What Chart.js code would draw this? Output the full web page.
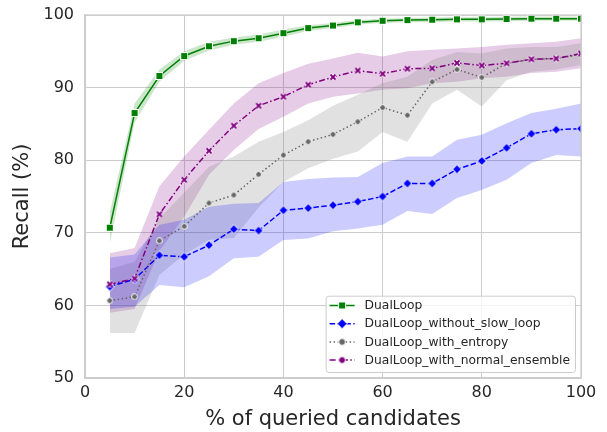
<!DOCTYPE html>
<html>
<head>
<meta charset="utf-8">
<script src="https://cdn.jsdelivr.net/npm/chart.js@4.4.1/dist/chart.umd.min.js"></script>
<style>
  html, body { margin: 0; padding: 0; background: #ffffff; }
  #wrap { width: 607px; height: 432px; }
</style>
</head>
<body>
<div id="wrap"><canvas id="recallChart" width="607" height="432"></canvas></div>
<script>
// % of queried candidates
const queried = [5, 10, 15, 20, 25, 30, 35, 40, 45, 50, 55, 60, 65, 70, 75, 80, 85, 90, 95, 100];

// DualLoop
const dualLoop     = [70.7, 86.5, 91.6, 94.35, 95.7, 96.4, 96.8, 97.5, 98.2, 98.55, 99.0, 99.2, 99.3, 99.35, 99.4, 99.4, 99.45, 99.5, 99.5, 99.5];
const dualLoopLow  = [68.5, 85.2, 90.8, 93.7, 95.1, 95.9, 96.3, 97.0, 97.8, 98.2, 98.7, 98.9, 99.0, 99.05, 99.1, 99.1, 99.15, 99.2, 99.2, 99.2];
const dualLoopHigh = [72.8, 87.8, 92.5, 95.0, 96.3, 96.9, 97.3, 98.0, 98.6, 98.9, 99.3, 99.5, 99.6, 99.65, 99.7, 99.7, 99.75, 99.8, 99.8, 99.8];

// DualLoop_without_slow_loop
const noSlow     = [62.6, 63.6, 66.9, 66.7, 68.3, 70.5, 70.3, 73.1, 73.4, 73.8, 74.3, 75.0, 76.8, 76.8, 78.75, 79.9, 81.7, 83.65, 84.2, 84.35];
const noSlowLow  = [59.5, 59.8, 62.8, 62.5, 64.0, 66.5, 66.7, 69.0, 69.2, 70.2, 70.6, 71.1, 73.0, 72.6, 74.8, 75.9, 77.3, 79.6, 80.7, 80.5];
const noSlowHigh = [66.6, 67.0, 71.1, 71.8, 73.6, 74.0, 74.1, 77.0, 77.4, 77.6, 77.7, 79.6, 80.5, 80.5, 82.8, 83.5, 85.1, 86.5, 87.1, 87.8];

// DualLoop_with_entropy
const entropy     = [60.65, 61.2, 68.9, 70.9, 74.1, 75.2, 78.05, 80.7, 82.55, 83.55, 85.3, 87.25, 86.2, 90.8, 92.5, 91.4, 93.35, 93.9, 94.0, 94.6];
const entropyLow  = [56.2, 56.2, 64.2, 67.0, 69.0, 69.3, 73.5, 77.0, 78.9, 80.2, 81.2, 83.9, 82.55, 87.8, 89.7, 87.4, 91.0, 92.2, 92.5, 93.1];
const entropyHigh = [65.0, 66.0, 72.0, 75.5, 79.1, 80.5, 82.55, 83.9, 85.5, 87.5, 89.0, 90.6, 91.5, 93.8, 94.9, 94.7, 95.4, 95.6, 95.6, 96.1];

// DualLoop_with_normal_ensemble
const ensemble     = [62.9, 63.7, 72.55, 77.3, 81.3, 84.75, 87.5, 88.75, 90.4, 91.45, 92.35, 91.9, 92.6, 92.65, 93.4, 93.05, 93.35, 93.9, 94.0, 94.7];
const ensembleLow  = [59.0, 59.5, 67.5, 72.2, 78.0, 81.4, 84.3, 86.0, 87.8, 88.75, 89.2, 89.7, 89.9, 90.6, 90.8, 91.3, 91.5, 92.0, 92.2, 92.65];
const ensembleHigh = [67.2, 67.9, 76.4, 80.5, 84.2, 87.8, 90.6, 92.0, 93.3, 94.0, 94.8, 94.3, 95.0, 95.2, 95.4, 95.6, 95.9, 96.1, 96.3, 96.8];

const xTicks = [0, 20, 40, 60, 80, 100];
const yTicks = [50, 60, 70, 80, 90, 100];

const textColor = '#262626';
const gridColor = '#cccccc';

function pts(values) {
    return queried.map((x, i) => ({ x: x, y: values[i] }));
}

// marker images (white edge like the seaborn style)
function makeMarker(kind, color, size) {
    const c = document.createElement('canvas');
    c.width = size; c.height = size;
    const g = c.getContext('2d');
    const m = size / 2;
    g.lineJoin = 'miter';
    if (kind === 'square') {
        g.fillStyle = color;
        g.fillRect(1, 1, size - 2, size - 2);
        g.strokeStyle = '#ffffff';
        g.lineWidth = 1;
        g.strokeRect(0.5, 0.5, size - 1, size - 1);
    } else if (kind === 'diamond') {
        g.beginPath();
        g.moveTo(m, 0.5); g.lineTo(size - 0.5, m); g.lineTo(m, size - 0.5); g.lineTo(0.5, m);
        g.closePath();
        g.fillStyle = color; g.fill();
        g.strokeStyle = '#ffffff'; g.lineWidth = 1; g.stroke();
    } else if (kind === 'circle') {
        g.beginPath();
        g.arc(m, m, m - 0.6, 0, Math.PI * 2);
        g.fillStyle = color; g.fill();
        g.strokeStyle = '#ffffff'; g.lineWidth = 1; g.stroke();
    } else if (kind === 'cross') {
        const d = m - 1.5;
        g.lineCap = 'butt';
        g.beginPath();
        g.moveTo(m - d, m - d); g.lineTo(m + d, m + d);
        g.moveTo(m + d, m - d); g.lineTo(m - d, m + d);
        g.strokeStyle = '#ffffff'; g.lineWidth = 3.4; g.stroke();
        g.strokeStyle = color; g.lineWidth = 1.8; g.stroke();
    }
    return c;
}

const series = [
    { label: 'DualLoop', mean: dualLoop, low: dualLoopLow, high: dualLoopHigh,
      color: '#008000', band: 'rgba(0,128,0,0.2)', dash: [],
      marker: makeMarker('square', '#008000', 8), legendMarker: makeMarker('square', '#008000', 8) },
    { label: 'DualLoop_without_slow_loop', mean: noSlow, low: noSlowLow, high: noSlowHigh,
      color: '#0000ff', band: 'rgba(0,0,255,0.2)', dash: [5.5, 2.4],
      marker: makeMarker('diamond', '#0000ff', 10), legendMarker: makeMarker('diamond', '#0000ff', 11) },
    { label: 'DualLoop_with_entropy', mean: entropy, low: entropyLow, high: entropyHigh,
      color: '#666666', band: 'rgba(128,128,128,0.24)', dash: [1.5, 2.5],
      marker: makeMarker('circle', '#666666', 7), legendMarker: makeMarker('circle', '#666666', 8) },
    { label: 'DualLoop_with_normal_ensemble', mean: ensemble, low: ensembleLow, high: ensembleHigh,
      color: '#800080', band: 'rgba(128,0,128,0.2)', dash: [6, 2.4, 1.5, 2.4],
      marker: makeMarker('cross', '#800080', 8), legendMarker: makeMarker('circle', '#800080', 8) }
];

const datasets = [];
series.forEach((s, i) => {
    datasets.push({
        label: s.label + ' low', data: pts(s.low),
        borderWidth: 0, pointRadius: 0, fill: false, order: 20 + i
    });
    datasets.push({
        label: s.label + ' high', data: pts(s.high),
        borderWidth: 0, pointRadius: 0, fill: '-1', backgroundColor: s.band, order: 20 + i
    });
});
series.forEach((s, i) => {
    datasets.push({
        label: s.label, data: pts(s.mean),
        borderColor: s.color, borderWidth: 1.5, borderDash: s.dash,
        pointStyle: s.marker, pointRadius: 4, pointHoverRadius: 4,
        fill: false, tension: 0, order: 10 - i
    });
});

// legend drawn inside the axes, lower right, like matplotlib
const innerLegend = {
    id: 'innerLegend',
    afterDraw(chart) {
        const ctx = chart.ctx;
        const area = chart.chartArea;
        const rowH = 18.2;
        ctx.save();
        ctx.font = '12.3px "DejaVu Sans"';
        let maxW = 0;
        series.forEach(s => { maxW = Math.max(maxW, ctx.measureText(s.label).width); });
        const boxW = 4 + 25 + 10 + maxW + 5;
        const boxH = rowH * series.length + 3.5;
        const x0 = area.right - 6 - boxW;
        const y0 = area.bottom - 6 - boxH;
        ctx.beginPath();
        ctx.roundRect(x0 + 0.5, y0 + 0.5, boxW, boxH, 3);
        ctx.fillStyle = 'rgba(255,255,255,0.8)';
        ctx.fill();
        ctx.strokeStyle = gridColor;
        ctx.lineWidth = 1;
        ctx.stroke();
        series.forEach((s, i) => {
            const cy = y0 + 9.8 + rowH * i;
            const hx = x0 + 4;
            ctx.beginPath();
            ctx.setLineDash(s.dash);
            ctx.strokeStyle = s.color;
            ctx.lineWidth = 1.5;
            ctx.moveTo(hx, cy);
            ctx.lineTo(hx + 25, cy);
            ctx.stroke();
            ctx.setLineDash([]);
            const m = s.legendMarker;
            ctx.drawImage(m, hx + 12.5 - m.width / 2, cy - m.height / 2);
            ctx.fillStyle = textColor;
            ctx.textBaseline = 'middle';
            ctx.textAlign = 'left';
            ctx.fillText(s.label, hx + 35, cy + 0.5);
        });
        ctx.restore();
    }
};

new Chart(document.getElementById('recallChart').getContext('2d'), {
    type: 'line',
    data: { datasets: datasets },
    options: {
        responsive: false,
        animation: false,
        devicePixelRatio: 1,
        layout: { padding: { top: 15, right: 26, left: 0, bottom: 0 } },
        plugins: {
            legend: { display: false },
            tooltip: { enabled: false }
        },
        scales: {
            x: {
                type: 'linear', min: 0, max: 100,
                afterBuildTicks: (scale) => { scale.ticks = xTicks.map(v => ({ value: v })); },
                afterFit: (scale) => { scale.height = 54; scale.paddingLeft = 0; scale.paddingRight = 0; },
                grid: { color: gridColor, lineWidth: 1, drawTicks: false },
                border: { display: true, color: gridColor, width: 1.25 },
                ticks: { color: textColor, font: { family: 'DejaVu Sans', size: 16 }, padding: 5, maxRotation: 0 },
                title: { display: true, text: '% of queried candidates', color: textColor,
                         font: { family: 'DejaVu Sans', size: 21 }, padding: { top: 0, bottom: 0 } }
            },
            y: {
                type: 'linear', min: 50, max: 100,
                afterBuildTicks: (scale) => { scale.ticks = yTicks.map(v => ({ value: v })); },
                afterFit: (scale) => { scale.width = 85; scale.paddingTop = 0; scale.paddingBottom = 0; },
                grid: { color: gridColor, lineWidth: 1, drawTicks: false },
                border: { display: true, color: gridColor, width: 1.25 },
                ticks: { color: textColor, font: { family: 'DejaVu Sans', size: 16 }, padding: 11 },
                title: { display: true, text: 'Recall (%)', color: textColor,
                         font: { family: 'DejaVu Sans', size: 21 }, padding: { top: 10, bottom: 4 } }
            }
        }
    },
    plugins: [innerLegend, {
        id: 'frame',
        afterDatasetsDraw(chart) {
            const a = chart.chartArea, ctx = chart.ctx;
            ctx.save();
            ctx.strokeStyle = gridColor;
            ctx.lineWidth = 1.25;
            ctx.strokeRect(a.left, a.top, a.right - a.left, a.bottom - a.top);
            ctx.restore();
        }
    }]
});
</script>
</body>
</html>
